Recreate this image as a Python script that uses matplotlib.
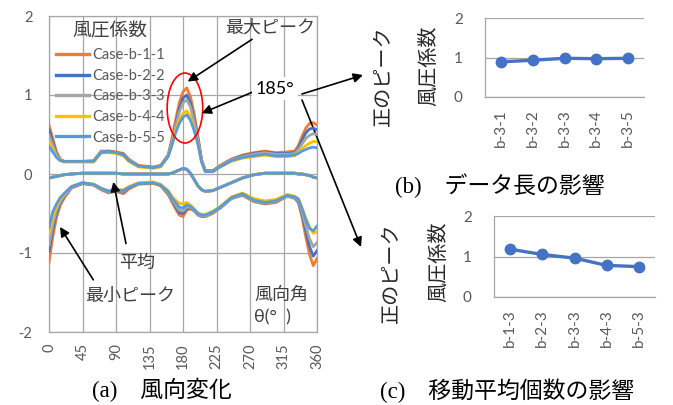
import matplotlib.pyplot as plt
from matplotlib.patches import Ellipse

plt.rcParams['font.family'] = ['Lato', 'Noto Sans CJK JP', 'DejaVu Sans']
plt.rcParams['axes.unicode_minus'] = False

# ---- data: wind direction (deg) ----
theta = [0, 5, 10, 15, 20, 30, 45, 60, 70, 80, 90, 100, 107, 120, 140, 150,
         160, 165, 170, 175, 180, 185, 190, 195, 200, 205, 210, 220, 230, 245,
         260, 275, 290, 305, 320, 330, 335, 340, 345, 350, 355, 360]

case_labels = ['Case-b-1-1', 'Case-b-2-2', 'Case-b-3-3', 'Case-b-4-4', 'Case-b-5-5']

# maximum peak
max_b11 = [.62, .45, .28, .19, .16, .16, .16, .17, .29, .29, .28, .26, .19, .11, .09, .11,
           .24, .44, .68, .90, 1.04, 1.09, .98, .76, .48, .18, .04, .04, .11, .19,
           .24, .27, .29, .27, .28, .29, .36, .48, .58, .64, .65, .62]
max_b22 = [.56, .41, .26, .18, .16, .16, .16, .16, .28, .29, .27, .25, .18, .10, .08, .10,
           .23, .41, .62, .83, .96, 1.00, .90, .70, .45, .17, .04, .04, .10, .18,
           .23, .26, .28, .26, .26, .27, .33, .43, .52, .57, .58, .56]
max_b33 = [.49, .37, .24, .18, .16, .16, .16, .16, .28, .28, .27, .24, .18, .10, .08, .10,
           .23, .40, .60, .78, .90, .94, .85, .66, .43, .16, .03, .03, .10, .18,
           .22, .25, .27, .25, .25, .26, .31, .38, .45, .49, .51, .50]
max_b44 = [.41, .31, .22, .17, .15, .15, .15, .15, .27, .27, .26, .23, .16, .09, .07, .09,
           .22, .37, .55, .68, .77, .80, .72, .57, .39, .15, .03, .03, .09, .16,
           .20, .22, .24, .22, .22, .23, .27, .32, .36, .39, .41, .41]
max_b55 = [.35, .28, .21, .17, .16, .16, .16, .16, .27, .28, .27, .24, .17, .10, .08, .10,
           .22, .36, .52, .64, .72, .75, .68, .55, .38, .15, .03, .03, .09, .17,
           .21, .23, .25, .23, .23, .24, .26, .29, .31, .33, .34, .33]

# mean (all cases coincide)
mean_all = [-.05, -.04, -.03, -.02, -.01, .00, .01, .01, .01, .01, .01, .00, .00, .00, .00, .00,
            .00, .01, .03, .05, .07, .06, .01, -.07, -.15, -.20, -.22, -.21, -.17, -.11,
            -.05, -.01, .01, .01, .01, .01, .00, .00, -.01, -.02, -.04, -.05]

# minimum peak
min_b11 = [-1.12, -.80, -.55, -.40, -.31, -.18, -.12, -.14, -.20, -.24, -.22, -.25, -.19, -.13, -.12, -.15,
           -.26, -.35, -.44, -.52, -.54, -.46, -.44, -.47, -.52, -.54, -.54, -.50, -.43, -.31,
           -.27, -.35, -.38, -.36, -.28, -.31, -.36, -.55, -.80, -1.02, -1.16, -1.07]
min_b22 = [-.98, -.70, -.50, -.37, -.29, -.17, -.12, -.14, -.19, -.23, -.21, -.23, -.18, -.12, -.11, -.14,
           -.25, -.33, -.41, -.49, -.50, -.44, -.43, -.46, -.51, -.53, -.53, -.49, -.43, -.31,
           -.26, -.34, -.37, -.35, -.28, -.30, -.35, -.51, -.72, -.92, -1.04, -.97]
min_b33 = [-.90, -.64, -.46, -.35, -.28, -.17, -.11, -.14, -.19, -.23, -.21, -.22, -.17, -.12, -.11, -.14,
           -.24, -.32, -.39, -.46, -.47, -.42, -.42, -.46, -.51, -.53, -.53, -.49, -.43, -.31,
           -.26, -.34, -.37, -.35, -.28, -.30, -.34, -.48, -.66, -.82, -.92, -.87]
min_b44 = [-.76, -.55, -.41, -.32, -.26, -.16, -.11, -.13, -.18, -.21, -.20, -.20, -.16, -.11, -.10, -.13,
           -.21, -.28, -.33, -.37, -.38, -.36, -.39, -.44, -.49, -.51, -.51, -.47, -.41, -.29,
           -.24, -.31, -.34, -.32, -.26, -.28, -.31, -.43, -.56, -.67, -.75, -.73]
min_b55 = [-.68, -.48, -.38, -.30, -.25, -.16, -.11, -.13, -.18, -.22, -.20, -.21, -.17, -.12, -.11, -.14,
           -.22, -.30, -.36, -.42, -.43, -.39, -.41, -.45, -.50, -.52, -.52, -.48, -.42, -.30,
           -.25, -.33, -.36, -.34, -.27, -.29, -.32, -.44, -.58, -.69, -.72, -.66]

# (b) data length, (c) moving average count
cats_b = ['b-3-1', 'b-3-2', 'b-3-3', 'b-3-4', 'b-3-5']
peak_b = [0.89, 0.93, 0.98, 0.97, 0.98]
cats_c = ['b-1-3', 'b-2-3', 'b-3-3', 'b-4-3', 'b-5-3']
peak_c = [1.18, 1.05, 0.96, 0.78, 0.75]

colors = ['#ED7D31', '#4472C4', '#A5A5A5', '#FFC000', '#5B9BD5']
max_series = [max_b11, max_b22, max_b33, max_b44, max_b55]
min_series = [min_b11, min_b22, min_b33, min_b44, min_b55]

grid_c = '#a6a6a6'
tick_c = '#595959'
jp = ['Noto Sans CJK JP', 'DejaVu Sans']
cap = ['Liberation Serif', 'Noto Sans CJK JP']

fig = plt.figure(figsize=(6.73, 4.05), dpi=100)

# -------------------------
# (a) wind direction
# -------------------------
ax = fig.add_axes([49/673, 73/405, 268/673, 316/405])
handles = []
for i in range(5):
    h, = ax.plot(theta, max_series[i], color=colors[i], lw=2.0, zorder=3 + i)
    ax.plot(theta, mean_all, color=colors[i], lw=2.0, zorder=3 + i)
    ax.plot(theta, min_series[i], color=colors[i], lw=2.0, zorder=3 + i)
    handles.append(h)

ax.set_xlim(0, 360)
ax.set_ylim(-2, 2)
ax.set_xticks(range(0, 361, 45))
ax.set_yticks([-2, -1, 0, 1, 2])
ax.tick_params(axis='both', length=0, labelcolor=tick_c, labelsize=10.5)
ax.tick_params(axis='x', rotation=90, pad=8)
ax.tick_params(axis='y', pad=12)
ax.grid(True, color=grid_c, lw=0.9)
ax.set_axisbelow(True)
for s in ax.spines.values():
    s.set_color(grid_c)
    s.set_linewidth(0.9)

leg = ax.legend(handles, case_labels, loc='upper left', bbox_to_anchor=(0.025, 0.985),
                frameon=False, fontsize=10.5, title='風圧係数', title_fontsize=13.5,
                handlelength=2.3, handletextpad=0.2, labelspacing=0.45,
                borderpad=0, borderaxespad=0)
for t in leg.get_texts():
    t.set_color(tick_c)
for ln in leg.get_lines():
    ln.set_linewidth(2.4)
leg.get_title().set_color('#404040')
leg.get_title().set_family(jp)

ax.add_patch(Ellipse((182.6, 0.835), 47.8, 0.886, fill=False, edgecolor='red', lw=1.2, zorder=10))

arrow = dict(arrowstyle='-|>', color='black', lw=1.2, mutation_scale=14, shrinkA=0, shrinkB=0)
ax.annotate('最大ピーク', xy=(186.3, 1.17), xytext=(236.4, 1.74), fontsize=13, color='#404040',
            family=jp, ha='left', va='bottom', arrowprops=arrow, zorder=11)
ax.annotate('', xy=(205.1, 0.77), xytext=(274.4, 1.04), arrowprops=arrow, zorder=11)
ax.text(303.5, 1.08, '185°', fontsize=13, color='black', ha='center', va='center',
        bbox=dict(facecolor='white', edgecolor='none', pad=2.5), zorder=12)
ax.annotate('', xy=(86.4, -0.10), xytext=(103.4, -0.88), arrowprops=arrow, zorder=11)
ax.text(118.2, -1.13, '平均', fontsize=13, color='#404040', family=jp, ha='center', va='center')
ax.annotate('', xy=(14.8, -0.67), xytext=(59.5, -1.34), arrowprops=arrow, zorder=11)
ax.text(108.8, -1.54, '最小ピーク', fontsize=13, color='#404040', family=jp, ha='center', va='center')
ax.text(276, -1.53, '風向角', fontsize=13, color='#404040', family=jp, ha='left', va='center')
ax.text(276, -1.82, 'θ(°  )', fontsize=13, color='#404040', ha='left', va='center')

# arrows from the 185° label to the side panels
ax.annotate('', xy=(363, 330), xycoords='figure pixels', xytext=(302, 311),
            textcoords='figure pixels', arrowprops=arrow, annotation_clip=False)
ax.annotate('', xy=(361, 158), xycoords='figure pixels', xytext=(302, 305),
            textcoords='figure pixels', arrowprops=arrow, annotation_clip=False)

fig.text(92/673, 1 - 390/405, '(a)　風向変化', fontsize=16.5, family=cap, ha='left', va='center')


# -------------------------
# (b), (c) positive peak
# -------------------------
def peak_panel(rect, cats, vals):
    a = fig.add_axes(rect)
    a.plot(range(len(cats)), vals, color='#4472C4', lw=2.4, marker='o', ms=7.5, zorder=3)
    a.set_xlim(-0.5, len(cats) - 0.5)
    a.set_ylim(0, 2)
    a.set_yticks([0, 1, 2])
    a.set_xticks(range(len(cats)))
    a.set_xticklabels(cats, rotation=90)
    a.tick_params(axis='both', length=0, labelcolor=tick_c, labelsize=11)
    a.tick_params(axis='x', pad=9)
    a.tick_params(axis='y', pad=16)
    a.grid(True, axis='y', color=grid_c, lw=0.9)
    a.spines['top'].set_visible(False)
    a.spines['right'].set_visible(False)
    for s in ('left', 'bottom'):
        a.spines[s].set_color(grid_c)
        a.spines[s].set_linewidth(0.9)
    return a


axb = peak_panel([485/673, 308/405, 159/673, 79/405], cats_b, peak_b)
axc = peak_panel([494/673, 108/405, 161/673, 81/405], cats_c, peak_c)

fig.text(384/673, 1 - 25/405, '正のピーク', rotation=90, fontsize=14.5, family=jp, color='#262626',
         ha='center', va='top')
fig.text(429/673, 1 - 25/405, '風圧係数', rotation=90, fontsize=14.5, family=jp, color='#262626',
         ha='center', va='top')
fig.text(392/673, 1 - 222/405, '正のピーク', rotation=90, fontsize=14.5, family=jp, color='#262626',
         ha='center', va='top')
fig.text(439/673, 1 - 222/405, '風圧係数', rotation=90, fontsize=14.5, family=jp, color='#262626',
         ha='center', va='top')

fig.text(395/673, 1 - 186/405, '(b)　データ長の影響', fontsize=16.5, family=cap, ha='left', va='center')
fig.text(380/673, 1 - 391/405, '(c)　移動平均個数の影響', fontsize=16.5, family=cap, ha='left', va='center')

fig.savefig('out.png', dpi=100)
